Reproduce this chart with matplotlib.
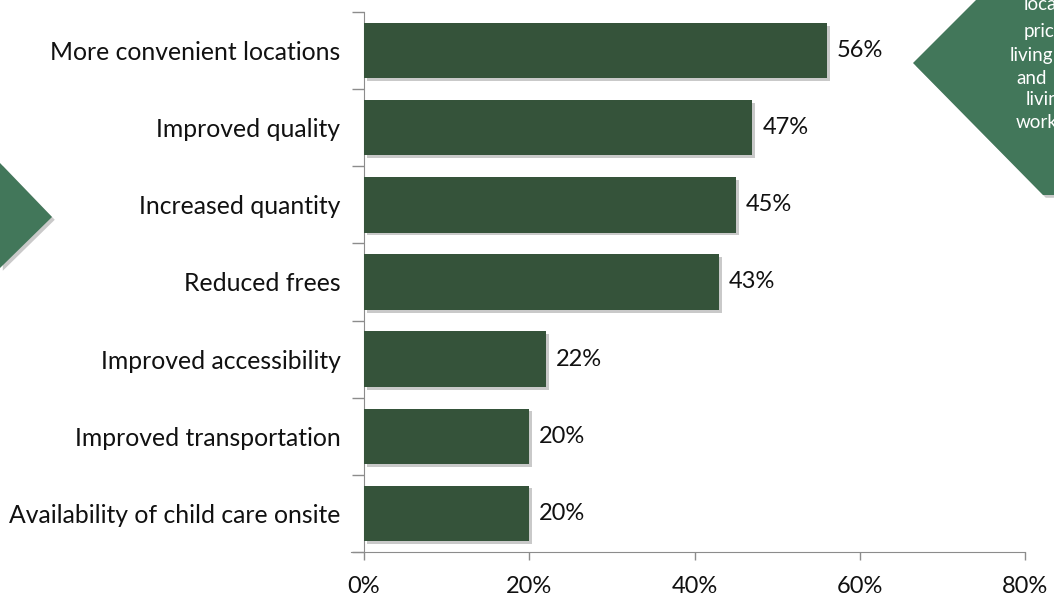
import matplotlib
matplotlib.use('Agg')
import matplotlib.pyplot as plt
import matplotlib.patheffects as pe
from matplotlib.patches import Polygon
import numpy as np

# survey answers and their shares (%)
categories = ['More convenient locations', 'Improved quality', 'Increased quantity',
              'Reduced frees', 'Improved accessibility', 'Improved transportation',
              'Availability of child care onsite']
shares = [56, 47, 45, 43, 22, 20, 20]
x_ticks = [0, 20, 40, 60, 80]
callout_lines = ['location', 'prices', 'living', 'and', 'living', 'work']

bar_color = '#35533a'
shape_color = '#42775a'
axis_color = '#8c8c8c'

plt.rcParams['font.family'] = ['Lato', 'DejaVu Sans']

fig = plt.figure(figsize=(10.54, 5.98), dpi=100)
ax = fig.add_axes([0.3454, 0.0769, 0.6271, 0.9031])

y = np.arange(len(categories))
bars = ax.barh(y, shares, height=0.72, color=bar_color, zorder=3)
for b in bars:
    b.set_path_effects([pe.SimplePatchShadow(offset=(2, -2), shadow_rgbFace='#888888', alpha=0.45),
                        pe.Normal()])

for yi, v in zip(y, shares):
    ax.text(v + 1.2, yi, f'{v}%', va='center', ha='left', fontsize=17, color='#111111')

ax.set_xlim(0, 80)
ax.set_ylim(len(categories) - 0.5, -0.5)
ax.set_xticks(x_ticks)
ax.set_xticklabels([f'{t}%' for t in x_ticks], fontsize=17, color='#111111')
ax.set_yticks(y)
ax.set_yticklabels(categories, fontsize=17.8, color='#111111')
ax.set_yticks(np.arange(len(categories) + 1) - 0.5, minor=True)

ax.tick_params(axis='y', which='major', length=0, pad=17)
ax.tick_params(axis='y', which='minor', length=9, color=axis_color, width=1)
ax.tick_params(axis='x', which='major', length=6, color=axis_color, width=1, pad=11)

for s in ['top', 'right']:
    ax.spines[s].set_visible(False)
for s in ['left', 'bottom']:
    ax.spines[s].set_color(axis_color)
ax.spines['bottom'].set_bounds(-1.6, 80)
ax.set_facecolor('none')

# decorative arrow shapes on both sides
shadow = [pe.SimplePatchShadow(offset=(2, -2), shadow_rgbFace='#666666', alpha=0.35), pe.Normal()]
left_shape = Polygon([(0, 598 - 163), (52, 598 - 217), (0, 598 - 268)], closed=True,
                     transform=None, facecolor=shape_color, edgecolor='none', zorder=1)
left_shape.set_path_effects(shadow)
fig.patches.append(left_shape)
right_shape = Polygon([(976, 598), (913, 598 - 63), (1043, 598 - 195), (1060, 598 - 195),
                       (1060, 598)], closed=True, transform=None,
                      facecolor=shape_color, edgecolor='none', zorder=1)
right_shape.set_path_effects(shadow)
fig.patches.append(right_shape)

line_x = [1024, 1024, 1010, 1016, 1026, 1016]
line_y = [4, 32, 55, 78, 100, 123]
for txt, lx, ly in zip(callout_lines, line_x, line_y):
    fig.text(lx / 1054, 1 - ly / 598, txt, color='white', fontsize=13.5,
             ha='left', va='center')

fig.savefig('out.png', dpi=100)
